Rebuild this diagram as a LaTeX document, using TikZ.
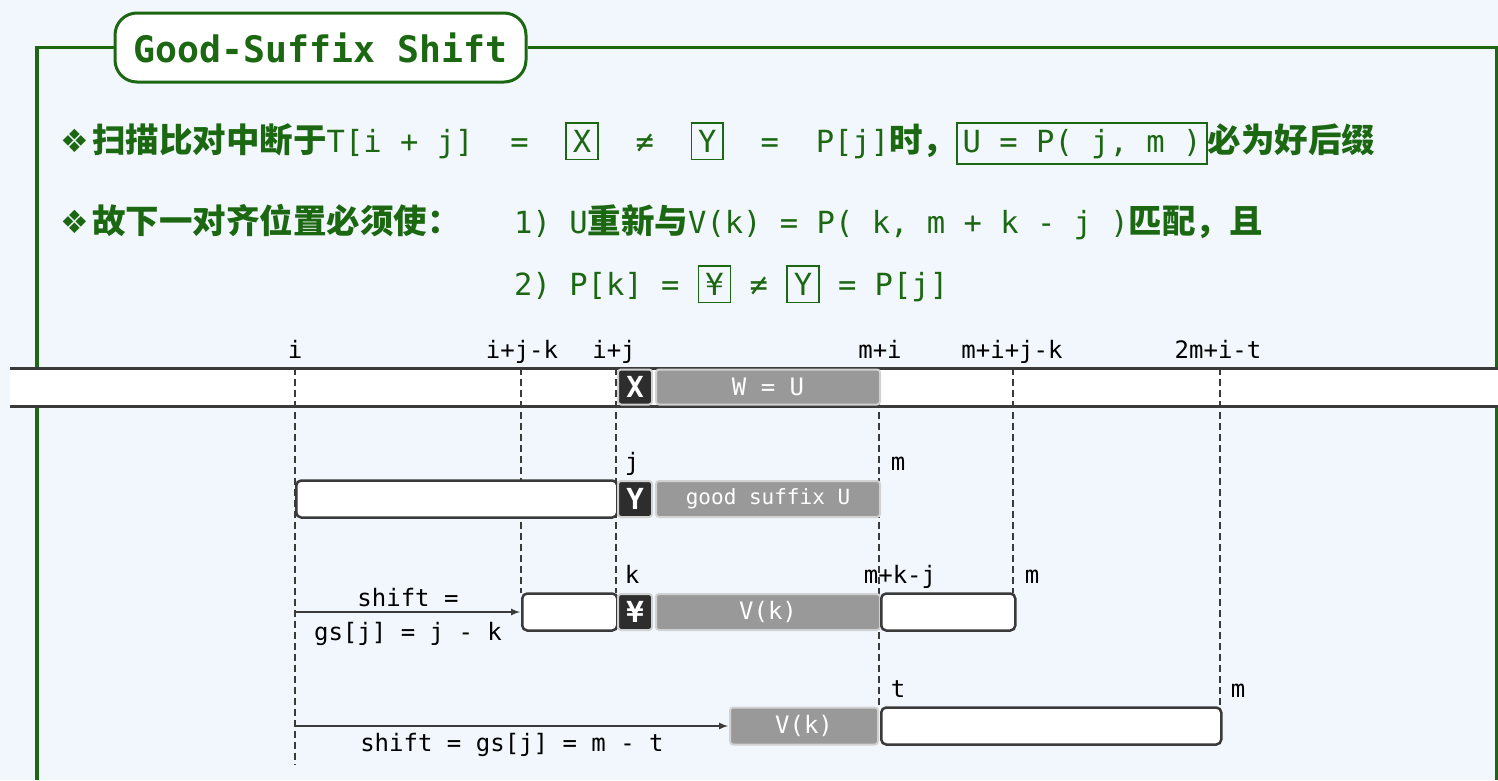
\documentclass[tikz,border=0pt]{standalone}
\usepackage{fontspec}
\usepackage{xcolor}
\usepackage{tikz}
\usetikzlibrary{arrows}
\setmainfont{DejaVu Sans}
\setmonofont{DejaVu Sans Mono}
\newfontfamily\cjk{Noto Sans CJK SC}
\newfontfamily\dingfont{DejaVu Sans}
\definecolor{paper}{RGB}{241,247,252}
\definecolor{leaf}{RGB}{28,104,18}
\definecolor{ink}{RGB}{58,58,58}
\definecolor{cellgray}{RGB}{153,153,153}
\definecolor{celldark}{RGB}{45,45,45}
\definecolor{cellrim}{RGB}{210,210,210}
\newcommand{\zh}[1]{{\cjk\bfseries\fontsize{33.5}{40}\selectfont #1}}
\newcommand{\dingb}{\makebox[32pt][l]{\dingfont\fontsize{32}{36}\selectfont ❖}}
\newcommand{\bx}[1]{{\setlength{\fboxsep}{6pt}\setlength{\fboxrule}{1.5pt}\fbox{\rule[-0.5pt]{0pt}{21pt}#1}}}
\newcommand{\bxbig}[1]{{\setlength{\fboxsep}{5pt}\setlength{\fboxrule}{1.5pt}\fbox{\rule[-5.5pt]{0pt}{26.5pt}#1}}}

\begin{document}
\begin{tikzpicture}[x=1pt,y=-1pt,font=\ttfamily,>=latex,
	titlebox/.style={draw=leaf,line width=3pt,fill=white,rounded corners=22pt,
		minimum width=411pt,minimum height=69pt,text=leaf,
		font=\ttfamily\bfseries\fontsize{36.5}{40}\selectfont},
	frame/.style={draw=leaf,line width=3.5pt},
	head/.style={anchor=base west,inner sep=0pt,text=leaf,
		font=\ttfamily\fontsize{30.5}{36}\selectfont},
	tick/.style={anchor=base,inner sep=0pt,text=black,
		font=\ttfamily\fontsize{24}{28}\selectfont},
	note/.style={inner sep=3pt,text=black,font=\ttfamily\fontsize{24}{28}\selectfont},
	rail/.style={draw=ink,line width=3pt},
	guide/.style={draw=ink,line width=1.5pt,dash pattern=on 7pt off 4pt},
	push/.style={-latex,draw=ink,line width=2pt,shorten >=1pt},
	cell/.style={anchor=west,inner sep=0pt,rounded corners=3pt,line width=2pt,text=white},
	dark/.style={cell,fill=celldark,draw=cellrim,minimum width=34pt,
		font=\ttfamily\bfseries\fontsize{29}{32}\selectfont},
	gray/.style={cell,fill=cellgray,draw=cellrim,font=\ttfamily\fontsize{24}{28}\selectfont},
	hollow/.style={cell,fill=white,draw=ink,line width=2.5pt,rounded corners=5pt,minimum height=37pt}]
	\useasboundingbox[fill=paper] (0,0) rectangle (1498,780);
	%
	\node[titlebox] (title) at (320.5,47.5) {Good-Suffix Shift};
	\draw[frame] (37,780) -- (37,47.5) -- (title.west);
	\draw[frame] (title.east) -- (1497,47.5) -- (1497,780);
	%
	\node[head] (rule1) at (60,152) {\dingb\zh{扫描比对中断于}T[i + j]~~=~~\bx{X}~~≠~~\bx{Y}~~=~~P[j]\zh{时，}\bxbig{U = P( j, m )}\zh{必为好后缀}};
	\node[head] (rule2) at (60,233) {\dingb\zh{故下一对齐位置必须使：}};
	\node[head] (rule2a) at (514,233) {1) U\zh{重新与}V(k) = P( k, m + k - j )\zh{匹配，且}};
	\node[head] (rule2b) at (514,295) {2) P[k] = \bx{¥} ≠ \bx{Y} = P[j]};
	%
	\fill[white] (10,368) rectangle (1498,406);
	\draw[rail] (10,368) -- (1498,368) (10,406) -- (1498,406);
	\foreach \gx/\gy in {295/765,521/593,616/593,879/707,1013/593,1220/707}
		\draw[guide] (\gx,368) -- (\gx,\gy);
	%
	\node[tick] (ti) at (295,358) {i};
	\node[tick] (tijk) at (522,358) {i+j-k};
	\node[tick] (tij) at (614,358) {i+j};
	\node[tick] (tmi) at (880,358) {m+i};
	\node[tick] (tmijk) at (1012,358) {m+i+j-k};
	\node[tick] (tmit) at (1218,358) {2m+i-t};
	%
	\node[dark,minimum height=35pt] (tx) at (617,387) {X};
	\node[gray,minimum height=35pt,minimum width=224pt] (tw) at (655,387) {W = U};
	%
	\node[tick] (pj) at (632,470) {j};
	\node[tick] (pm) at (898,470) {m};
	\node[hollow,minimum width=321pt] (r2a) at (295,499) {};
	\node[dark,minimum height=36pt] (py) at (617,499) {Y};
	\node[gray,minimum height=36pt,minimum width=224pt,font=\ttfamily\fontsize{21}{24}\selectfont] (pu) at (655,499) {good suffix U};
	%
	\node[tick] (qk) at (632,583) {k};
	\node[tick] (qmkj) at (900,583) {m+k-j};
	\node[tick] (qm) at (1032,583) {m};
	\node[hollow,minimum width=95pt] (r3a) at (521,612) {};
	\node[dark,minimum height=36pt] (qy) at (617,612) {¥};
	\node[gray,minimum height=36pt,minimum width=224pt] (qv) at (655,612) {V(k)};
	\node[hollow,minimum width=134pt] (r3b) at (880,612) {};
	%
	\node[tick] (ut) at (898,697) {t};
	\node[tick] (um) at (1238,697) {m};
	\node[gray,minimum height=37pt,minimum width=148pt] (uv) at (729,726) {V(k)};
	\node[hollow,minimum width=340pt] (r4b) at (880,726) {};
	%
	\coordinate (s3) at (295,612);
	\coordinate (s4) at (295,726);
	\draw[push] (s3) -- (r3a.west)
		node[note,midway,above=1pt]{shift =}
		node[note,midway,below=6pt]{gs[j] = j - k};
	\draw[push] (s4) -- (uv.west)
		node[note,midway,below=3pt]{shift = gs[j] = m - t};
\end{tikzpicture}
\end{document}
